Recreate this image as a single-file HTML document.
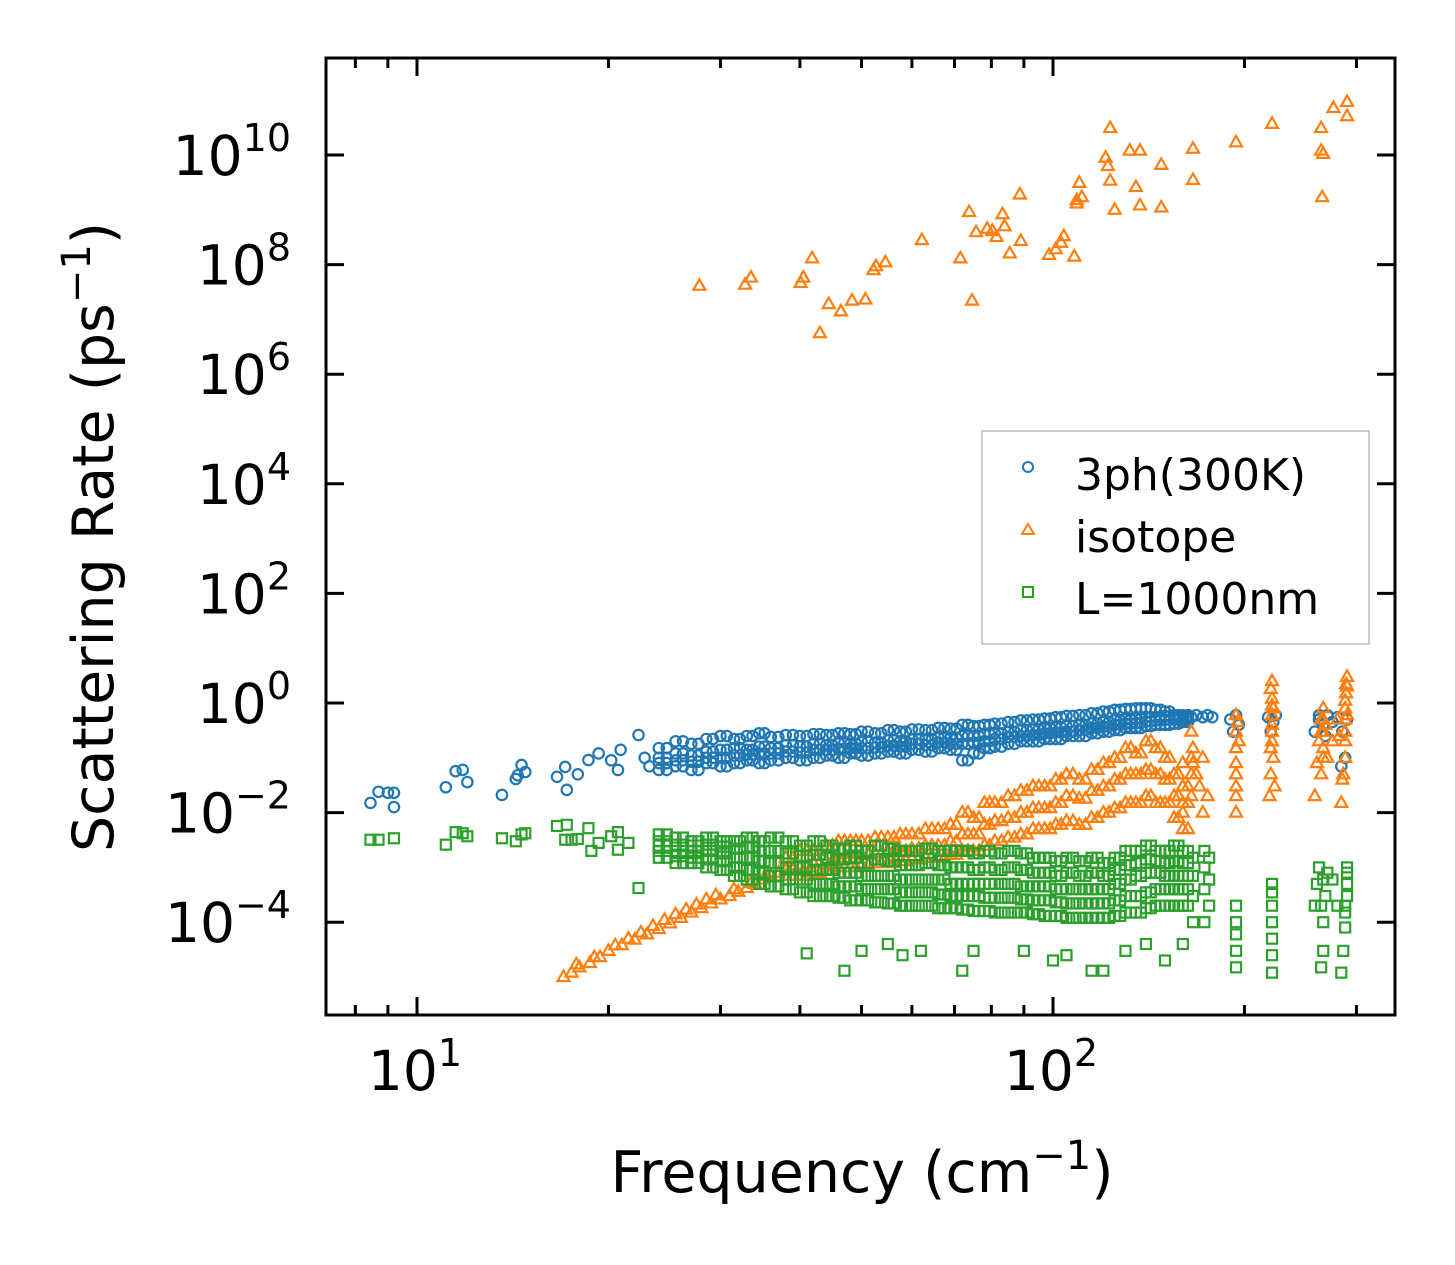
<!DOCTYPE html>
<html><head><meta charset="utf-8"><style>
html,body{margin:0;padding:0;background:#fff;}
svg{display:block;font-family:"DejaVu Sans","Liberation Sans",sans-serif;}
</style></head><body>
<svg id="chart" width="1455" height="1265" viewBox="0 0 1455 1265" xmlns="http://www.w3.org/2000/svg">
<rect width="1455" height="1265" fill="#fff"/>
<g id="marks"></g>
<g id="axes"></g>
<text x="862" y="1192" font-size="57" text-anchor="middle">Frequency (cm<tspan dy="-23" font-size="40">−1</tspan><tspan dy="23">)</tspan></text>
<text transform="translate(113,537) rotate(-90)" font-size="57" text-anchor="middle">Scattering Rate (ps<tspan dy="-23" font-size="40">−1</tspan><tspan dy="23">)</tspan></text>
<g>
<rect x="982" y="431" width="387" height="213" fill="#fff" stroke="#bbb" stroke-width="1.5"/>
<circle cx="1028" cy="467" r="5" fill="none" stroke="#1f77b4" stroke-width="2"/>
<text x="1075" y="490" font-size="44">3ph(300K)</text>
<polygon points="1028,524 1034,534 1022,534" fill="none" stroke="#ff7f0e" stroke-width="2"/>
<text x="1075" y="552" font-size="44">isotope</text>
<rect x="1023" y="587" width="10" height="10" fill="none" stroke="#2ca02c" stroke-width="2"/>
<text x="1075" y="614" font-size="44">L=1000nm</text>
</g>
</svg>
<script>
// ---- data ----
const bandFreq=[24,25.5,27,28.5,30,31.5,33,34.5,36,38,40,42,44,46,48,50,52.5,55,57.5,60,63,66,69,72,75,78,81,85,89,93,97,101,105,110,115,120,125,130,135,140,145,150,155,160];
const bandFreq2=[24.7,26.2,27.7,29.2,30.7,32.2,33.7,35.2,37,39,41,43,45,47,49,51.2,53.7,56.2,58.7,61.5,64.5,67.5,70.5,73.5,76.5,79.5,83,87,91,95,99,103,107.5,112.5,117.5,122.5,127.5,132.5,137.5,142.5,147.5,152.5,157.5,163];
const blueB1=[0.06,0.07,0.06,0.08,0.07,0.08,0.09,0.08,0.09,0.1,0.09,0.1,0.11,0.1,0.12,0.11,0.12,0.13,0.12,0.14,0.13,0.15,0.14,0.09,0.12,0.15,0.16,0.18,0.2,0.2,0.22,0.22,0.25,0.25,0.28,0.3,0.32,0.35,0.35,0.38,0.4,0.4,0.42,0.45];
const blueB2=[0.1,0.12,0.11,0.13,0.14,0.15,0.14,0.16,0.15,0.17,0.16,0.18,0.17,0.19,0.18,0.2,0.19,0.21,0.2,0.22,0.22,0.24,0.23,0.25,0.25,0.27,0.28,0.3,0.32,0.33,0.35,0.36,0.38,0.4,0.42,0.45,0.48,0.5,0.52,0.55,0.55,0.58,0.55,0.55];
const blueB3=[0.15,0.2,0.18,0.22,0.25,0.22,0.25,0.28,0.24,0.26,0.25,0.27,0.26,0.28,0.27,0.3,0.28,0.32,0.3,0.33,0.32,0.35,0.34,0.4,0.38,0.4,0.42,0.45,0.48,0.5,0.52,0.55,0.58,0.6,0.65,0.7,0.75,0.78,0.8,0.8,0.75,0.7,0.6,0.6];
const blueB4=[0.08,0.09,0.085,0.1,0.1,0.11,0.115,0.12,0.12,0.13,0.125,0.14,0.14,0.145,0.15,0.15,0.155,0.165,0.16,0.18,0.17,0.19,0.18,0.18,0.19,0.2,0.22,0.24,0.25,0.26,0.28,0.29,0.3,0.32,0.35,0.37,0.4,0.42,0.43,0.46,0.48,0.5,0.5,0.5];
const blueSparseFreq=[8.45,8.7,9.0,9.2,9.2,11.1,11.5,11.8,12.0,13.6,14.3,14.4,14.6,14.8,16.6,17.1,17.2,17.9,18.6,19.3,20.2,20.7,20.9,22.3,22.8,23.2,165,168,172,175,178,190,192,194,196,218,220,222,224,258,262,266,270,275,280,285,290,288,284,268,262];
const blueSparseRate=[0.015,0.024,0.023,0.023,0.0126,0.029,0.057,0.06,0.036,0.021,0.041,0.048,0.074,0.055,0.045,0.068,0.026,0.05,0.091,0.12,0.09,0.06,0.14,0.26,0.1,0.07,0.55,0.6,0.55,0.6,0.55,0.5,0.3,0.6,0.4,0.55,0.3,0.45,0.6,0.3,0.5,0.4,0.6,0.45,0.55,0.3,0.5,0.1,0.07,0.25,0.6];

const orangeBandTop=[null,null,null,null,null,null,null,null,null,1.5e-3,2e-3,2e-3,2.5e-3,3e-3,3e-3,3e-3,3.5e-3,3.5e-3,4e-3,4e-3,5e-3,5e-3,6e-3,1e-2,8e-3,1.5e-2,1.5e-2,2e-2,2.5e-2,3e-2,3e-2,4e-2,5e-2,4e-2,6e-2,8e-2,1e-1,1.5e-1,1.2e-1,2e-1,1.5e-1,1e-1,5e-2,3e-2];
const orangeBandMid=[null,null,null,null,null,null,null,null,null,9e-4,1e-3,1.2e-3,1.3e-3,1.5e-3,1.5e-3,1.7e-3,1.8e-3,2e-3,2e-3,2.2e-3,2.5e-3,2.5e-3,3e-3,4e-3,4e-3,6e-3,7e-3,8e-3,1e-2,1.2e-2,1.2e-2,1.5e-2,2e-2,1.8e-2,2.5e-2,3e-2,4e-2,5e-2,5e-2,6e-2,5e-2,4e-2,2e-2,1.5e-2];
const orangeBandLow=[null,null,null,null,null,null,null,null,null,7e-4,7e-4,8e-4,9e-4,1e-3,1e-3,1.1e-3,1.2e-3,1.2e-3,1.3e-3,1.4e-3,1.5e-3,1.5e-3,1.7e-3,2e-3,2e-3,2.5e-3,3e-3,3.5e-3,4e-3,5e-3,5e-3,6e-3,7e-3,6e-3,8e-3,1e-2,1.2e-2,1.5e-2,1.5e-2,2e-2,1.5e-2,1.5e-2,8e-3,5e-3];
const orangeRampFreq=[17,17.5,18,18.7,19.4,20,21,22,23,24,25,26,27,28,29,30,31,32,33,34,35,36,37,38,39,17.8,19,20.5,21.5,22.5,23.5,24.5,25.5,26.5,27.5,28.5,29.5,31.5,33.5,35.5];
const orangeRampRate=[1e-5,1.2e-5,1.5e-5,1.8e-5,2.3e-5,3e-5,3.8e-5,4.8e-5,6e-5,7.5e-5,9.5e-5,1.2e-4,1.5e-4,1.8e-4,2.2e-4,2.6e-4,3e-4,3.6e-4,4.2e-4,5e-4,6e-4,7e-4,8e-4,9e-4,1e-3,1.7e-5,2.3e-5,3.8e-5,5e-5,6.5e-5,8.5e-5,1.1e-4,1.4e-4,1.7e-4,2.1e-4,2.6e-4,3.1e-4,4e-4,5.2e-4,7e-4];
const orangeSparseFreq=[27.8,32.8,33.5,40.1,40.5,41.8,43.0,44.4,46.4,48.3,50.7,52.2,52.7,54.5,62.2,71.5,73.8,74.6,75.7,78.8,80.3,81.5,83.3,83.9,85.5,88.7,89.0,98.6,101,103,104,108,109,109,110,111,121,122,123,123,125,132,135,137,137,148,148,166,166,194,221,264,264,265,266,276,290,290];
const orangeSparseRate=[4.1e7,4.3e7,5.8e7,4.6e7,5.8e7,1.3e8,5.6e6,1.9e7,1.4e7,2.2e7,2.3e7,7.9e7,9.3e7,1.1e8,2.8e8,1.3e8,9.1e8,2.2e7,3.9e8,4.5e8,4.1e8,3.2e8,8.3e8,5e8,1.6e8,1.9e9,2.7e8,1.5e8,1.9e8,2.5e8,3.3e8,1.4e8,1.5e9,1.3e9,3.1e9,1.7e9,8.9e9,6.3e9,3.1e10,3.4e9,1e9,1.2e10,2.6e9,1.2e10,1.2e9,1.1e9,6.6e9,1.3e10,3.5e9,1.7e10,3.7e10,3.1e10,1.2e10,1.7e9,1.05e10,7.2e10,5.1e10,9.3e10];
const orangeSpikeFreq=[160,160,160,165,165,165,165,166,166,168,170,172,172,175,194,194,194,194,194,194,195,196,194,194,219,220,220,221,221,221,221,222,222,223,221,221,221,220,258,260,262,264,264,266,266,266,268,270,275,280,284,286,288,288,288,289,290,290,290,285,282,288,288,288,289,266,266,264];
const orangeSpikeRate=[0.01,0.03,0.08,0.02,0.05,0.1,0.3,0.08,0.15,0.05,0.03,0.01,0.1,0.02,0.01,0.03,0.08,0.15,0.3,0.6,0.45,0.2,0.05,0.02,0.02,0.05,0.15,0.3,0.6,1.2,2.5,0.8,0.1,0.03,0.2,0.4,0.9,1.8,0.02,0.08,0.2,0.05,0.5,0.15,0.3,0.8,0.4,0.1,0.2,0.5,0.015,0.05,0.1,0.3,0.8,1.5,3,2,0.6,0.04,0.25,0.2,0.5,1.1,2.2,0.1,0.5,0.3];

const greenB1=[4e-3,3.5e-3,3e-3,3.5e-3,3e-3,3e-3,3.5e-3,3e-3,3.5e-3,3e-3,2.5e-3,3e-3,2.5e-3,2.2e-3,2.5e-3,2e-3,2.5e-3,2.2e-3,2e-3,2e-3,2.2e-3,2e-3,2e-3,2e-3,1.8e-3,2e-3,1.8e-3,2e-3,1.8e-3,1.5e-3,1.5e-3,1.3e-3,1.5e-3,1.3e-3,1.5e-3,1.2e-3,1.5e-3,2e-3,2e-3,2.5e-3,2e-3,2e-3,2.5e-3,2e-3];
const greenB2=[2.5e-3,2e-3,2e-3,2e-3,1.8e-3,1.5e-3,1.5e-3,1.3e-3,1.2e-3,1e-3,1e-3,9e-4,9e-4,8e-4,8e-4,7e-4,7e-4,7e-4,6e-4,6e-4,6e-4,6e-4,5e-4,5e-4,5e-4,5e-4,5e-4,5e-4,4.5e-4,4.5e-4,4.5e-4,4e-4,4e-4,4e-4,4e-4,4e-4,5e-4,6e-4,7e-4,8e-4,8e-4,7e-4,7e-4,7e-4];
const greenB3=[1.5e-3,1.2e-3,1.2e-3,1e-3,9e-4,7e-4,6e-4,5e-4,4.5e-4,4e-4,3.5e-4,3e-4,3e-4,2.8e-4,2.5e-4,2.5e-4,2.3e-4,2.2e-4,2e-4,2e-4,2e-4,1.8e-4,1.8e-4,1.7e-4,1.6e-4,1.6e-4,1.5e-4,1.5e-4,1.5e-4,1.4e-4,1.3e-4,1.3e-4,1.2e-4,1.2e-4,1.2e-4,1.2e-4,1.3e-4,1.5e-4,1.5e-4,1.8e-4,2e-4,2e-4,2e-4,2e-4];
const greenB4=[2e-3,1.6e-3,1.5e-3,1.4e-3,1.3e-3,1e-3,9e-4,8e-4,7e-4,6e-4,6e-4,5e-4,5e-4,4.5e-4,4.5e-4,4e-4,4e-4,4e-4,3.5e-4,3.5e-4,3.5e-4,3.2e-4,3e-4,3e-4,3e-4,2.8e-4,2.8e-4,2.8e-4,2.6e-4,2.5e-4,2.5e-4,2.3e-4,2.2e-4,2.2e-4,2.2e-4,2.2e-4,2.5e-4,3e-4,3e-4,3.5e-4,4e-4,4e-4,4e-4,4e-4];
const greenB5=[3e-3,2.6e-3,2.5e-3,2.6e-3,2.4e-3,2.2e-3,2.4e-3,2e-3,2e-3,1.8e-3,1.6e-3,1.7e-3,1.5e-3,1.4e-3,1.5e-3,1.2e-3,1.4e-3,1.3e-3,1.1e-3,1.1e-3,1.2e-3,1.1e-3,1e-3,1e-3,9e-4,1e-3,9e-4,1e-3,9e-4,8e-4,8e-4,7e-4,8e-4,7e-4,8e-4,7e-4,9e-4,1.1e-3,1.2e-3,1.4e-3,1.3e-3,1.2e-3,1.3e-3,1.2e-3];
const greenSparseFreq=[8.45,8.7,9.2,11.1,11.5,11.8,12.0,13.6,14.3,14.6,14.8,16.6,17.1,17.2,17.5,17.9,18.6,19.3,20.2,20.7,21.5,22.3,18.8,20.7,41,47,50,55,58,62,72,75,90,100,105,115,120,130,140,150,160];
const greenSparseRate=[3.2e-3,3.2e-3,3.4e-3,2.6e-3,4.4e-3,4.2e-3,3.7e-3,3.4e-3,3e-3,4e-3,4.2e-3,5.7e-3,3.2e-3,6e-3,3.2e-3,3.3e-3,5.2e-3,2.8e-3,3.7e-3,4.4e-3,2.8e-3,4.2e-4,2e-3,2.1e-3,2.7e-5,1.3e-5,3e-5,4e-5,2.5e-5,3e-5,1.3e-5,3e-5,3e-5,2e-5,2.5e-5,1.3e-5,1.3e-5,3e-5,4e-5,2e-5,4e-5];
const greenSpikeFreq=[166,166,166,166,173,173,173,173,176,176,176,194,194,194,194,194,221,221,221,221,221,221,221,258,260,262,264,266,266,268,270,275,280,284,286,288,288,290,290,290,290,288,266,264];
const greenSpikeRate=[1e-4,3e-4,7e-4,1.5e-3,1e-4,4e-4,1e-3,2e-3,2e-4,6e-4,1.5e-3,1.5e-5,3e-5,6e-5,1e-4,2e-4,1.2e-5,2.5e-5,5e-5,1e-4,2e-4,3.5e-4,5e-4,2e-4,5e-4,1e-3,1.5e-5,3e-5,1e-4,3e-4,8e-4,6e-4,2e-4,1.2e-5,3e-5,8e-5,2e-4,5e-4,8e-4,1e-3,3e-4,1.5e-4,6e-4,2e-4];

const xTickValues=[10,100];
const xTickLabels=["1","2"];
const xMinorTicks=[8,9,20,30,40,50,60,70,80,90,200,300];
const yTickExps=[-4,-2,0,2,4,6,8,10];

// ---- axes ----
const L=326,R=1395,T=58,B=1015;
function xs(f){return 417+636*(Math.log10(f)-1);}
function ys(r){return 703-54.8*Math.log10(r);}
const NS="http://www.w3.org/2000/svg";
const marks=document.getElementById('marks'), axes=document.getElementById('axes');
function mk(tag,attrs,parent){const e=document.createElementNS(NS,tag);for(const k in attrs)e.setAttribute(k,attrs[k]);parent.appendChild(e);return e;}

function circ(f,r,name){const e=mk('circle',{cx:xs(f),cy:ys(r),r:5.2,fill:'none',stroke:'#1f77b4','stroke-width':2.2},marks);

}
function tri(f,r,name){const x=xs(f),y=ys(r);const e=mk('polygon',{points:`${x},${y-6.5} ${x+6},${y+4} ${x-6},${y+4}`,fill:'none',stroke:'#ff7f0e','stroke-width':2.2},marks);

}
function sq(f,r,name){const x=xs(f),y=ys(r);const e=mk('rect',{x:x-5,y:y-5,width:10,height:10,fill:'none',stroke:'#2ca02c','stroke-width':2.2},marks);

}

const freqSets=[bandFreq,bandFreq2];
// blue
freqSets.forEach(F=>[blueB1,blueB2,blueB3,blueB4].forEach(b=>b.forEach((v,i)=>{if(v!=null)circ(F[i],v,'point-3ph');})));
blueSparseFreq.forEach((f,i)=>circ(f,blueSparseRate[i],'point-3ph'));
// orange
freqSets.forEach(F=>[orangeBandLow,orangeBandMid,orangeBandTop].forEach(b=>b.forEach((v,i)=>{if(v!=null)tri(F[i],v,'point-isotope');})));
orangeRampFreq.forEach((f,i)=>tri(f,orangeRampRate[i],'point-isotope'));
orangeSparseFreq.forEach((f,i)=>tri(f,orangeSparseRate[i],'point-isotope'));
orangeSpikeFreq.forEach((f,i)=>tri(f,orangeSpikeRate[i],'point-isotope'));
// green
freqSets.forEach(F=>[greenB1,greenB5,greenB2,greenB3,greenB4].forEach(b=>b.forEach((v,i)=>{if(v!=null)sq(F[i],v,'point-boundary');})));
greenSparseFreq.forEach((f,i)=>sq(f,greenSparseRate[i],'point-boundary'));
greenSpikeFreq.forEach((f,i)=>sq(f,greenSpikeRate[i],'point-boundary'));

// frame
const fr=mk('rect',{x:L,y:T,width:R-L,height:B-T,fill:'none',stroke:'#000','stroke-width':3},axes);


xMinorTicks.forEach(v=>{const x=xs(v);
 const a=mk('line',{x1:x,x2:x,y1:B,y2:B-10,stroke:'#000','stroke-width':3},axes);
 
 
 const b=mk('line',{x1:x,x2:x,y1:T,y2:T+10,stroke:'#000','stroke-width':3},axes);
 
 });
xTickValues.forEach((v,i)=>{const x=xs(v);
 const a=mk('line',{x1:x,x2:x,y1:B,y2:B-18,stroke:'#000','stroke-width':3},axes);
 
 
 const b=mk('line',{x1:x,x2:x,y1:T,y2:T+18,stroke:'#000','stroke-width':3},axes);
 
 
 const t=mk('text',{x:x-2,y:1090,'font-size':55,'text-anchor':'middle'},axes);
 
 
 t.innerHTML='10<tspan dy="-24" font-size="38">'+xTickLabels[i]+'</tspan>';});
yTickExps.forEach(e=>{const y=ys(Math.pow(10,e));
 const a=mk('line',{x1:L,x2:L+18,y1:y,y2:y,stroke:'#000','stroke-width':3},axes);
 
 
 const b=mk('line',{x1:R,x2:R-18,y1:y,y2:y,stroke:'#000','stroke-width':3},axes);
 
 
 const t=mk('text',{x:291,y:y+20,'font-size':55,'text-anchor':'end'},axes);
 
 
 const lbl=e<0?('−'+(-e)):String(e);
 t.innerHTML='10<tspan dy="-24" font-size="38">'+lbl+'</tspan>';});
</script>
</body></html>
